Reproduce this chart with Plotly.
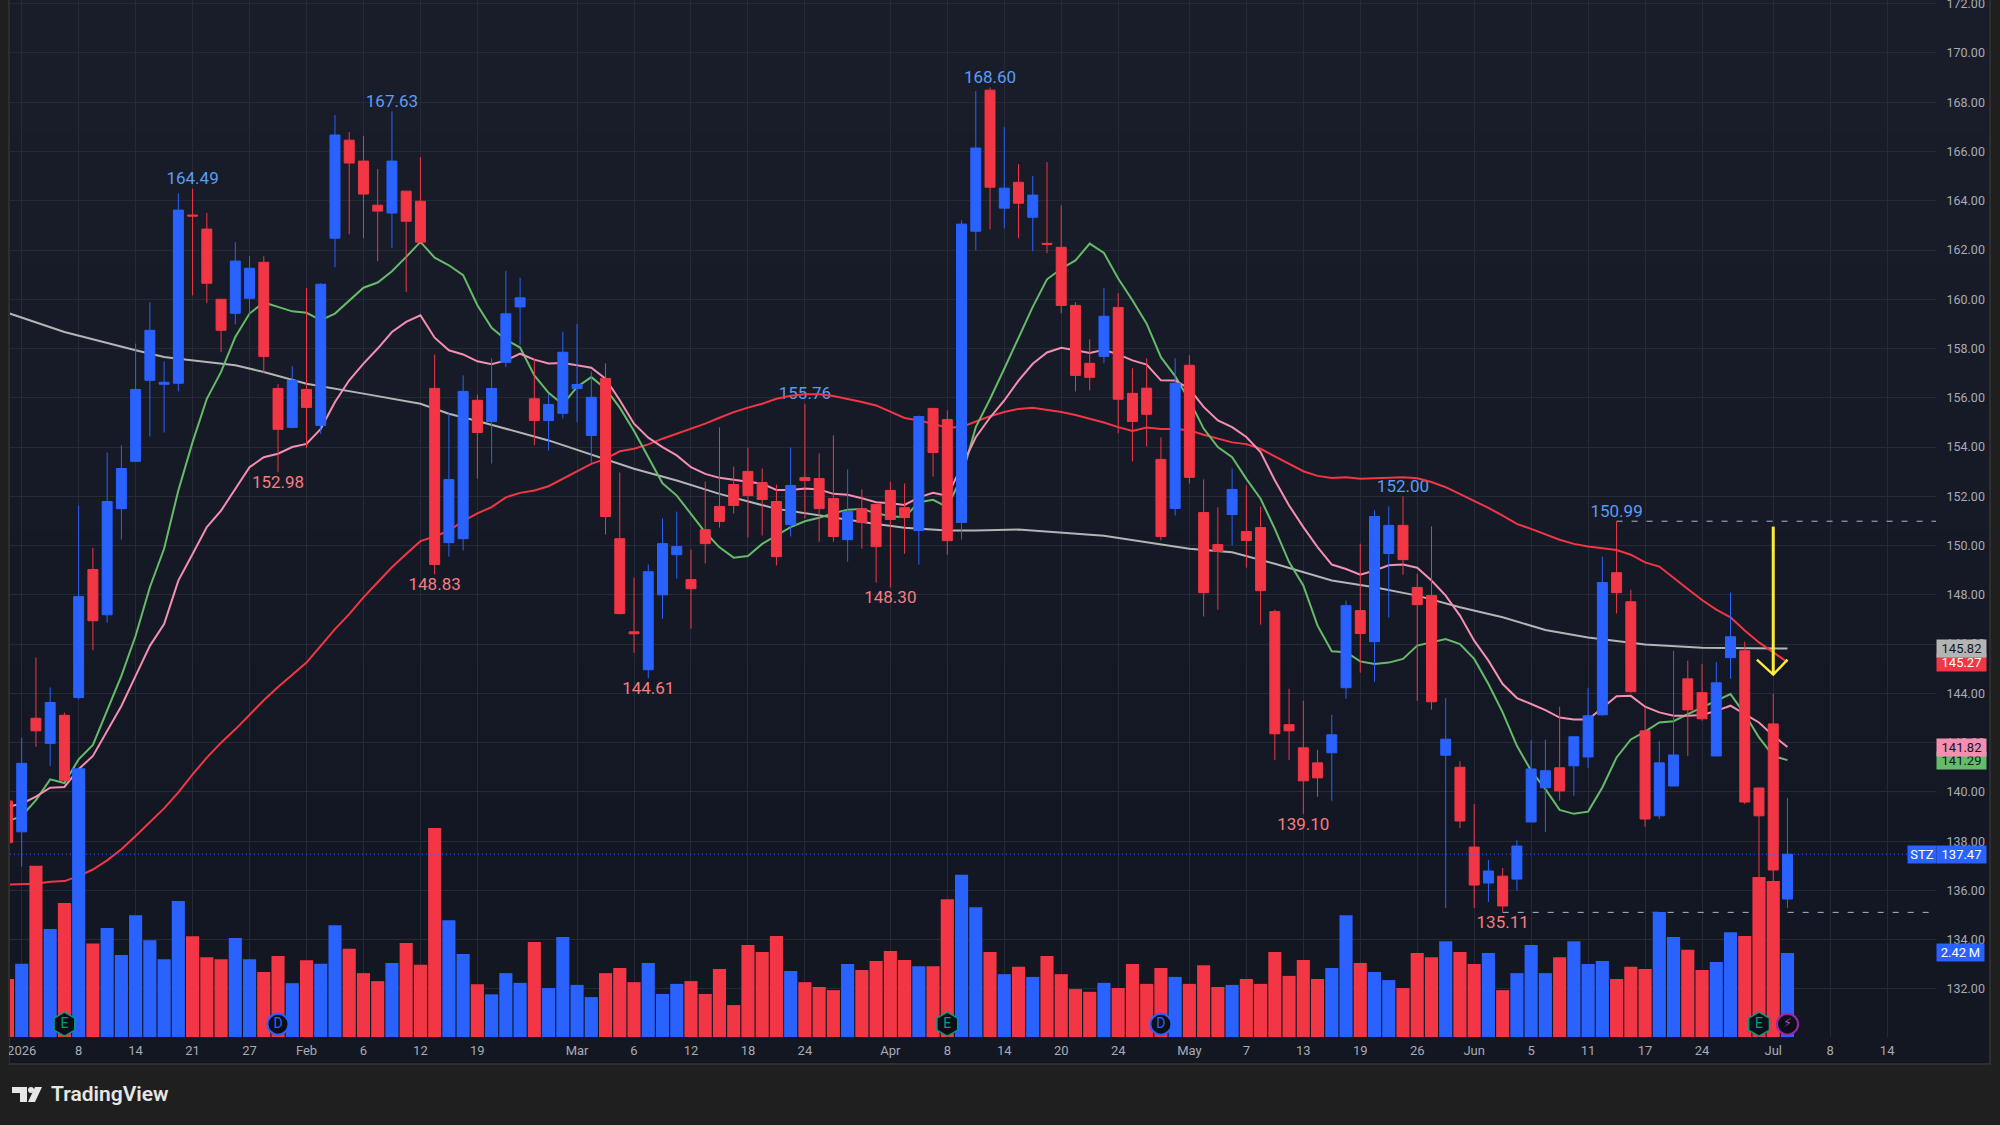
import plotly.graph_objects as go

# Daily session data for STZ, one entry per bar starting from bar -1.
opens = [139.63,138.38,142.99,141.97,143.11,143.83,149.03,147.19,151.50,153.42,156.71,156.55,156.59,163.42,162.85,160.00,159.43,160.04,161.50,156.38,154.80,156.34,154.88,162.48,166.46,165.61,163.82,163.50,164.39,163.98,156.38,150.12,150.28,155.90,155.04,157.44,159.69,155.96,155.08,155.37,156.38,154.47,156.79,150.28,146.50,144.96,148.00,149.63,148.62,150.65,151.59,152.48,153.01,152.56,151.79,150.85,152.76,152.72,151.91,150.24,151.50,151.67,152.24,151.54,150.61,155.57,155.12,150.94,162.76,168.49,163.70,164.75,163.33,162.27,162.11,159.75,157.40,157.68,159.67,156.18,156.39,153.50,151.51,157.32,151.34,150.04,151.26,150.57,150.73,147.32,142.73,141.79,141.18,141.59,144.23,147.36,146.10,149.68,150.82,148.30,147.97,141.49,141.00,137.76,136.30,136.58,136.46,138.78,140.17,140.98,141.06,141.42,143.13,148.90,147.72,142.48,139.03,140.24,144.59,144.03,141.46,145.45,145.73,140.16,142.76,135.65]
highs = [140.20,142.20,145.46,144.24,143.22,151.63,149.91,153.78,154.07,158.20,159.88,157.48,164.30,164.49,163.50,160.00,162.32,161.75,161.75,156.55,157.28,160.45,160.65,167.48,166.79,166.63,165.29,167.63,164.39,165.77,157.76,155.37,156.91,156.14,157.60,161.15,160.87,157.59,156.14,158.68,159.00,157.07,157.40,152.97,148.70,149.23,151.10,151.38,149.84,152.60,154.80,153.21,153.98,153.13,152.48,153.98,155.76,153.74,154.47,153.09,152.28,151.67,152.60,152.52,155.28,155.57,155.49,163.21,168.45,168.60,166.99,165.49,165.00,165.57,163.82,159.88,158.37,160.45,160.24,157.20,157.60,154.39,157.60,157.73,152.69,151.55,153.13,152.44,151.59,147.40,144.19,143.70,141.71,143.13,147.77,150.08,151.43,151.59,152.00,148.86,150.78,143.82,141.25,139.51,137.23,136.91,138.04,142.10,142.12,143.46,142.24,144.23,149.55,150.99,148.21,143.46,142.07,145.73,145.33,145.20,145.28,148.09,146.10,140.16,143.98,139.76]
lows = [137.50,136.96,141.83,141.05,140.47,143.75,145.75,146.87,150.24,153.42,154.43,154.59,156.26,160.16,159.84,157.85,158.98,159.35,157.00,152.98,154.76,153.96,154.54,161.30,162.64,162.48,161.55,162.07,160.29,162.32,148.83,149.55,149.80,152.72,153.33,157.25,158.15,154.07,153.86,155.16,155.00,153.37,150.45,147.20,145.65,144.61,147.03,148.66,146.63,149.27,150.73,151.30,150.33,150.41,149.19,150.37,151.10,150.16,150.16,149.35,149.88,148.50,148.30,149.67,149.23,152.80,149.63,150.24,161.99,162.84,162.88,162.48,161.95,161.87,159.43,156.26,156.30,157.40,154.56,153.42,154.03,150.21,151.22,152.52,147.12,147.40,150.00,149.11,146.79,141.30,141.30,139.10,139.80,139.64,143.78,144.84,144.47,147.08,148.82,143.70,143.34,135.28,138.53,135.28,135.53,135.11,136.00,138.78,138.38,139.64,139.84,140.98,143.09,147.24,144.03,138.58,138.90,140.24,141.46,142.89,141.46,144.59,139.51,136.00,136.38,135.29]
closes = [137.94,141.16,142.48,143.63,140.47,147.93,146.95,151.79,153.13,156.34,158.74,156.63,163.62,163.38,160.65,158.74,161.55,161.26,157.68,154.72,156.71,155.61,160.61,166.67,165.53,164.27,163.58,165.61,163.17,162.32,149.23,152.68,156.26,154.59,156.38,159.41,160.06,155.08,155.73,157.85,156.54,156.02,151.18,147.24,146.42,148.94,150.08,149.96,148.25,150.08,150.98,151.63,152.03,151.87,149.55,152.44,152.64,151.50,150.37,151.38,150.94,149.96,151.06,151.14,155.24,153.78,150.20,163.05,166.14,164.55,164.51,163.90,164.23,162.23,159.75,156.91,156.83,159.31,155.94,155.04,155.33,150.37,156.59,152.77,148.09,149.76,152.28,150.21,148.17,142.36,142.48,140.45,140.57,142.32,147.56,146.43,151.18,150.82,149.43,147.60,143.66,142.14,138.82,136.22,136.79,135.37,137.80,140.93,140.86,140.04,142.24,143.09,148.50,148.09,144.07,138.90,141.18,141.50,143.33,142.97,144.43,146.30,139.59,139.03,136.83,137.47]
volumes_m = [1.67,2.11,4.93,3.11,3.86,7.74,2.69,3.14,2.36,3.51,2.79,2.24,3.92,2.90,2.30,2.24,2.85,2.24,1.87,2.33,1.55,2.21,2.11,3.22,2.54,1.84,1.61,2.13,2.71,2.08,6.02,3.36,2.39,1.52,1.23,1.84,1.56,2.74,1.41,2.88,1.50,1.15,1.84,1.99,1.58,2.13,1.24,1.53,1.61,1.24,1.96,0.92,2.65,2.45,2.91,1.90,1.58,1.44,1.35,2.10,1.93,2.19,2.48,2.22,2.04,2.04,3.97,4.67,3.74,2.45,1.81,2.02,1.73,2.33,1.81,1.38,1.30,1.56,1.41,2.10,1.53,1.99,1.73,1.53,2.07,1.44,1.50,1.67,1.53,2.45,1.76,2.22,1.67,1.99,3.51,2.13,1.87,1.64,1.41,2.42,2.30,2.76,2.45,2.10,2.42,1.35,1.84,2.65,1.84,2.30,2.76,2.10,2.19,1.67,2.02,1.96,3.60,2.88,2.51,1.93,2.16,3.02,2.91,4.61,4.49,2.42]

# Moving averages, one value per bar.
ma_fast = [138.8,139.02,139.67,140.51,140.36,141.32,141.91,143.29,144.71,146.34,148.31,149.87,152.24,154.2,155.96,157.05,158.47,159.42,159.87,159.69,159.51,159.45,159.15,159.42,159.96,160.47,160.68,161.14,161.72,162.33,161.69,161.38,160.98,159.76,158.84,158.36,158.04,156.91,156.2,155.73,156.44,156.84,156.37,155.6,154.65,153.59,152.53,152.03,151.29,150.54,149.93,149.51,149.58,150.07,150.41,150.75,150.99,151.13,151.31,151.46,151.49,151.31,151.19,151.15,151.76,151.86,151.56,152.78,154.81,155.95,157.18,158.47,159.69,160.81,161.24,161.58,162.26,161.88,160.84,159.96,159.01,157.65,156.88,155.9,154.75,154.0,153.59,152.71,151.9,150.68,149.33,148.38,146.75,145.71,145.67,145.3,145.19,145.25,145.4,145.94,146.07,146.21,146.0,145.4,144.38,143.23,141.87,140.86,140.11,139.27,139.11,139.2,140.18,141.4,142.13,142.45,142.82,142.87,143.16,143.43,143.7,143.97,143.16,142.21,141.46,141.29]
ma_mid = [139.4,139.52,139.81,140.17,140.2,140.92,141.46,142.48,143.49,144.71,145.93,146.81,148.58,149.66,150.75,151.42,152.3,153.18,153.59,153.73,154.0,154.13,154.74,155.83,156.71,157.39,158.0,158.67,159.08,159.35,158.44,157.93,157.76,157.48,157.36,157.52,157.79,157.55,157.39,157.41,157.32,157.22,156.78,155.9,154.95,154.38,154.0,153.66,153.18,152.91,152.75,152.67,152.57,152.51,152.26,152.26,152.32,152.28,152.1,152.06,151.92,151.76,151.72,151.65,151.96,152.14,152.02,153.18,154.4,155.2,155.89,156.7,157.38,157.84,158.03,157.93,157.82,157.95,157.76,157.52,157.35,156.71,156.7,156.37,155.63,155.08,154.81,154.41,153.8,152.65,151.63,150.75,149.94,149.23,149.05,148.82,148.99,149.2,149.23,149.1,148.58,147.97,147.16,146.14,145.33,144.38,143.81,143.57,143.32,143.02,142.94,142.94,143.43,143.88,143.9,143.46,143.23,143.09,143.09,143.12,143.29,143.5,143.16,142.82,142.28,141.82]
ma_slow = [136.24,136.24,136.27,136.35,136.38,136.58,136.85,137.22,137.67,138.21,138.75,139.33,139.98,140.71,141.39,142.0,142.54,143.15,143.72,144.26,144.75,145.25,145.93,146.61,147.22,147.9,148.51,149.12,149.66,150.18,150.37,150.61,150.99,151.31,151.56,151.96,152.14,152.24,152.41,152.71,153.01,153.32,153.52,153.83,153.93,154.11,154.34,154.54,154.74,154.95,155.19,155.42,155.6,155.76,155.96,156.08,156.14,156.14,156.07,155.96,155.83,155.69,155.42,155.18,155.08,154.95,154.78,154.81,155.04,155.25,155.42,155.55,155.6,155.52,155.42,155.3,155.15,155.0,154.81,154.65,154.79,154.73,154.73,154.68,154.5,154.34,154.19,154.12,153.93,153.62,153.32,153.02,152.83,152.74,152.77,152.71,152.73,152.75,152.77,152.73,152.58,152.37,152.1,151.81,151.53,151.22,150.88,150.68,150.47,150.24,150.07,149.96,149.89,149.82,149.63,149.32,149.15,148.71,148.24,147.79,147.4,147.09,146.55,146.07,145.66,145.27]
ma_long_bars = [-1,3,8,10,11,15,17,20,24,28,30,32,37,41,43,46,49,53,56,60,62,65,67,70,76,82,85,88,92,95,98,101,104,106,107,110,114,118,124]
ma_long = [159.45,158.67,157.93,157.66,157.59,157.32,157.05,156.57,156.17,155.76,155.35,155.06,154.27,153.52,153.12,152.64,152.10,151.49,151.22,150.88,150.72,150.61,150.61,150.65,150.4,149.87,149.73,149.26,148.58,148.31,147.97,147.5,147.09,146.75,146.57,146.27,145.98,145.85,145.82]

bars = list(range(-1, 125))
assert all(len(s) == len(bars) for s in (opens, highs, lows, closes, volumes_m, ma_fast, ma_mid, ma_slow))

tick_bars = [0,4,8,12,16,20,24,28,32,39,43,47,51,55,61,65,69,73,77,82,86,90,94,98,102,106,110,114,118,123,127,131]
tick_labels = ["2026","8","14","21","27","Feb","6","12","19","Mar","6","12","18","24","Apr","8","14","20","24","May","7","13","19","26","Jun","5","11","17","24","Jul","8","14"]

# Extremes that carry a price label.
peak_bars = [12,26,55,68,97,112]
trough_bars = [18,29,44,61,90,104]
last_price = closes[-1]

# Drawn arrow on the final session.
arrow_shaft_bars = [123,123]
arrow_shaft_prices = [150.77,144.76]
arrow_head_bars = [121.85,123,124]
arrow_head_prices = [145.37,144.76,145.37]

# Event flags at the foot of the volume pane.
flag_bars_earnings = [3,65,122]
flag_bars_dividend = [18,80]
flag_bars_news = [124]

BLUE = "#2962ff"
RED = "#f23645"
GREEN = "#66bb6a"
PINK = "#f48fb1"
GREY = "#b4b4b4"
YELLOW = "#ffeb3b"
FONT = "Roboto"

# Pixel frame of the price pane inside the 2000x1125 page.
LEFT, RIGHT, TOP, BOTTOM = 10, 1936, 0, 1037
PRICE_RANGE = [130.05, 172.15]
VOLUME_RANGE = [0, 29.87]
BAR_RANGE = [-0.8216, 134.43]

def px(x):
    return (x - LEFT) / (RIGHT - LEFT)

def py(y):
    return (BOTTOM - y) / (BOTTOM - TOP)

fig = go.Figure()

# Price labels sit lowest so the averages and candles pass over them.
fig.add_trace(go.Scatter(
    x=peak_bars, y=[highs[b + 1] for b in peak_bars],
    text=[f"{highs[b + 1]:.2f}" for b in peak_bars],
    mode="text", textposition="top center",
    textfont=dict(family=FONT, size=17, color="#5b9cf6"), yaxis="y", hoverinfo="skip"))
# An invisible marker pushes the low labels a little further off the wick.
fig.add_trace(go.Scatter(
    x=trough_bars, y=[lows[b + 1] for b in trough_bars],
    text=[f"{lows[b + 1]:.2f}" for b in trough_bars],
    mode="text+markers", textposition="bottom center", marker=dict(size=3, opacity=0),
    textfont=dict(family=FONT, size=17, color="#f77c80"), yaxis="y", hoverinfo="skip"))

# Dashed levels from the last major high and low out to the pane edge.
for level_bar, level in ((112, highs[113]), (104, lows[105])):
    fig.add_trace(go.Scatter(
        x=[level_bar, BAR_RANGE[1]], y=[level, level], mode="lines",
        line=dict(color="#a9b9d0", width=1, dash="6px,9px"), yaxis="y", hoverinfo="skip"))

fig.add_trace(go.Scatter(x=ma_long_bars, y=ma_long, mode="lines", line=dict(color=GREY, width=2), yaxis="y"))
fig.add_trace(go.Scatter(x=bars, y=ma_slow, mode="lines", line=dict(color=RED, width=2), yaxis="y"))
fig.add_trace(go.Scatter(x=bars, y=ma_fast, mode="lines", line=dict(color=GREEN, width=2), yaxis="y"))
fig.add_trace(go.Scatter(x=bars, y=ma_mid, mode="lines", line=dict(color=PINK, width=2), yaxis="y"))

fig.add_trace(go.Candlestick(
    x=bars, open=opens, high=highs, low=lows, close=closes, yaxis="y2", whiskerwidth=0,
    increasing=dict(line=dict(color=BLUE, width=1), fillcolor=BLUE),
    decreasing=dict(line=dict(color=RED, width=1), fillcolor=RED)))

fig.add_trace(go.Bar(
    x=bars, y=volumes_m, width=0.92, yaxis="y3",
    marker=dict(color=[BLUE if c >= o else RED for o, c in zip(opens, closes)], line=dict(width=0))))

# Event flags, in the volume pane's units so they rest just above its base.
FLAG_LEVEL = 0.37
fig.add_trace(go.Scatter(
    x=flag_bars_earnings, y=[FLAG_LEVEL] * len(flag_bars_earnings), text=["E"] * len(flag_bars_earnings),
    mode="markers+text", textposition="middle center", yaxis="y3", cliponaxis=False,
    textfont=dict(family=FONT, size=14, color="#089981"),
    marker=dict(symbol="hexagon", size=24, color="#0b1018", line=dict(color="#089981", width=1.5))))
fig.add_trace(go.Scatter(
    x=flag_bars_dividend, y=[FLAG_LEVEL] * len(flag_bars_dividend), text=["D"] * len(flag_bars_dividend),
    mode="markers+text", textposition="middle center", yaxis="y3", cliponaxis=False,
    textfont=dict(family=FONT, size=14, color=BLUE),
    marker=dict(symbol="circle", size=21, color="#0b1018", line=dict(color=BLUE, width=2))))
fig.add_trace(go.Scatter(
    x=flag_bars_news, y=[FLAG_LEVEL] * len(flag_bars_news), text=["\u26a1"] * len(flag_bars_news),
    mode="markers+text", textposition="middle center", yaxis="y3", cliponaxis=False,
    textfont=dict(family="DejaVu Sans", size=13, color="#ab47bc"),
    marker=dict(symbol="circle", size=21, color="#0b1018", line=dict(color="#9c27b0", width=2))))

# Last-price marker and the arrow go above everything else.
fig.add_trace(go.Scatter(
    x=BAR_RANGE, y=[last_price, last_price], mode="lines",
    line=dict(color=BLUE, width=1, dash="1px,3px"), yaxis="y4", hoverinfo="skip"))
fig.add_trace(go.Scatter(
    x=arrow_shaft_bars, y=arrow_shaft_prices, mode="lines",
    line=dict(color=YELLOW, width=3), yaxis="y4", hoverinfo="skip"))
fig.add_trace(go.Scatter(
    x=arrow_head_bars, y=arrow_head_prices, mode="lines",
    line=dict(color=YELLOW, width=2.4), yaxis="y4", hoverinfo="skip"))

# Panel background: a soft vertical fade, darker toward the bottom.
panel_shades = ["#191d29", "#181c28", "#171b27", "#161a26", "#151925", "#141824", "#131723", "#131722"]
shapes = []
panel_top, panel_bottom = 0, 1063
step = (panel_bottom - panel_top) / len(panel_shades)
for n, shade in enumerate(panel_shades):
    shapes.append(dict(
        type="rect", xref="paper", yref="paper", layer="below", line=dict(width=0), fillcolor=shade,
        x0=px(10), x1=px(1990), y0=py(panel_top + n * step), y1=py(panel_top + (n + 1) * step + 1)))
shapes.append(dict(
    type="rect", xref="paper", yref="paper", layer="below", line=dict(color="#2e2e2e", width=2),
    x0=px(9), x1=px(1990), y0=py(1064), y1=py(-3)))
# The outer frame trims the first date label at the pane's left edge.
shapes.append(dict(
    type="rect", xref="paper", yref="paper", layer="above", line=dict(width=0), fillcolor="#1f1f1f",
    x0=px(0), x1=px(9), y0=py(1064), y1=py(1037)))

# TradingView mark in the footer.
def poly(points):
    return "M" + " L".join(f"{px(x)},{py(y)}" for x, y in points) + " Z"

for points in (
    [(12, 1087), (27, 1087), (27, 1102), (20, 1102), (20, 1093), (12, 1093)],
    [(35, 1087), (42, 1087), (35, 1102), (28, 1102)],
):
    shapes.append(dict(type="path", xref="paper", yref="paper", path=poly(points),
                       fillcolor="#e6e6e6", line=dict(width=0)))
shapes.append(dict(type="circle", xref="paper", yref="paper", fillcolor="#e6e6e6", line=dict(width=0),
                   x0=px(28), x1=px(34), y0=py(1093), y1=py(1087)))

annotations = [dict(
    text="TradingView", xref="paper", yref="paper", x=px(49), y=py(1094), xanchor="left", yanchor="middle",
    showarrow=False, font=dict(family=FONT, size=21, color="#e6e6e6", weight=600))]

# Price tags on the right-hand scale; later entries overlap earlier ones.
def tag(text, bg, fg, center_x, width, y, yref="y"):
    return dict(text=text, xref="paper", yref=yref, x=px(center_x), y=y, xanchor="center", yanchor="middle",
                width=width, height=17, bgcolor=bg, borderpad=0, showarrow=False,
                font=dict(family=FONT, size=13, color=fg))

DARK_TEXT = "#131722"
annotations += [
    tag(f"{ma_slow[-1]:.2f}", RED, "#ffffff", 1961.5, 49, ma_slow[-1]),
    tag(f"{ma_long[-1]:.2f}", GREY, DARK_TEXT, 1961.5, 49, ma_long[-1]),
    tag(f"{ma_fast[-1]:.2f}", GREEN, DARK_TEXT, 1961.5, 49, ma_fast[-1]),
    tag(f"{ma_mid[-1]:.2f}", PINK, DARK_TEXT, 1961.5, 49, ma_mid[-1]),
    tag("STZ", BLUE, "#ffffff", 1922, 28, last_price),
    tag(f"{last_price:.2f}", BLUE, "#ffffff", 1961.5, 49, last_price),
    tag(f"{volumes_m[-1]:.2f}\u2009M", BLUE, "#ffffff", 1960.5, 47, volumes_m[-1], yref="y3"),
]

hidden_axis = dict(visible=False, overlaying="y", fixedrange=True)
fig.update_layout(
    width=2000, height=1125, autosize=False, showlegend=False, bargap=0.08, barmode="overlay",
    boxmode="overlay", boxgap=0.3, boxgroupgap=0,
    margin=dict(l=LEFT, r=2000 - RIGHT, t=TOP, b=1125 - BOTTOM, autoexpand=False),
    paper_bgcolor="#1f1f1f", plot_bgcolor="rgba(0,0,0,0)",
    font=dict(family=FONT, size=13, color="#a8abb4"),
    shapes=shapes, annotations=annotations,
    xaxis=dict(
        range=BAR_RANGE, tickmode="array", tickvals=tick_bars, ticktext=tick_labels,
        showgrid=True, gridcolor="#262a36", gridwidth=1, zeroline=False, showline=False,
        ticks="outside", ticklen=1, tickcolor="rgba(0,0,0,0)", rangeslider=dict(visible=False),
        tickangle=0, tickfont=dict(family=FONT, size=13, color="#a8abb4")),
    yaxis=dict(
        range=PRICE_RANGE, side="right", dtick=2, tick0=130, tickformat=".2f",
        showgrid=True, gridcolor="#262a36", gridwidth=1, zeroline=False, showline=False,
        ticks="outside", ticklen=7, tickcolor="rgba(0,0,0,0)", ticklabeloverflow="allow",
        tickfont=dict(family=FONT, size=12.5, color="#a8abb4")),
    yaxis2=dict(range=PRICE_RANGE, **hidden_axis),
    yaxis3=dict(range=VOLUME_RANGE, **hidden_axis),
    yaxis4=dict(range=PRICE_RANGE, **hidden_axis),
)

fig.write_html("out.html")
